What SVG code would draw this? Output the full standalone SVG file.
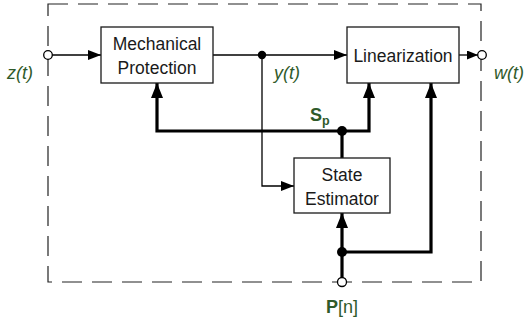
<svg xmlns="http://www.w3.org/2000/svg" width="524" height="322" viewBox="0 0 524 322">
<style>
.box{fill:#fff;stroke:#1a1a1a;stroke-width:1.3}
.lbl{font-family:"Liberation Sans",Arial,sans-serif;font-size:17.5px;fill:#1a1a1a;text-anchor:middle}
.sig{font-family:"Liberation Sans",Arial,sans-serif;font-size:18px;fill:#2f5a2a}
.thin{fill:none;stroke:#000;stroke-width:1.3}
.thick{fill:none;stroke:#000;stroke-width:3.2}
.port{fill:#fff;stroke:#000;stroke-width:1.3}
</style>
<defs>
<marker id="at" markerUnits="userSpaceOnUse" markerWidth="13" markerHeight="10" refX="13" refY="5" orient="auto">
<path d="M0,0 L13,5 L0,10 z" fill="#000"/>
</marker>
<marker id="as" markerUnits="userSpaceOnUse" markerWidth="11" markerHeight="9" refX="11" refY="4.5" orient="auto">
<path d="M0,0 L11,4.5 L0,9 z" fill="#000"/>
</marker>
<marker id="ab" markerUnits="userSpaceOnUse" markerWidth="15" markerHeight="12" refX="15" refY="6" orient="auto">
<path d="M0,0 L15,6 L0,12 z" fill="#000"/>
</marker>
</defs>
<rect x="48" y="4" width="433" height="278" fill="none" stroke="#222" stroke-width="1.2" stroke-dasharray="20,10"/>
<g id="connectors">
<path class="thin" d="M52,55 H101" marker-end="url(#at)"/>
<path class="thin" d="M213,55 H347" marker-end="url(#at)"/>
<path class="thin" d="M262,55 V186 H294" marker-end="url(#at)"/>
<path class="thin" d="M459,55 H478" marker-end="url(#as)"/>
<path class="thick" d="M342,158 V131"/>
<path class="thick" d="M342,131 H157 V83" marker-end="url(#ab)"/>
<path class="thick" d="M342,131 H369 V83" marker-end="url(#ab)"/>
<path class="thick" d="M342,278 V213" marker-end="url(#ab)"/>
<path class="thick" d="M342,252 H431 V83" marker-end="url(#ab)"/>
<circle cx="262" cy="55" r="4.2" fill="#000"/>
<circle cx="342" cy="131" r="5" fill="#000"/>
<circle cx="342" cy="252" r="5" fill="#000"/>
</g>
<g id="in_z">
<circle class="port" cx="48" cy="55" r="4.3"/>
<text class="sig" x="20" y="79" text-anchor="middle" font-style="italic">z(t)</text>
</g>
<g id="out_w">
<circle class="port" cx="482" cy="55" r="4.3"/>
<text class="sig" x="494" y="79" font-style="italic">w(t)</text>
</g>
<g id="in_p">
<circle class="port" cx="342" cy="282" r="4.5"/>
<text class="sig" x="342" y="313" text-anchor="middle" font-size="19"><tspan font-weight="bold">P</tspan>[n]</text>
</g>
<g id="lbl_y">
<text class="sig" x="287" y="79" text-anchor="middle" font-style="italic">y(t)</text>
</g>
<g id="lbl_sp">
<text class="sig" x="310" y="121" font-weight="bold">S<tspan font-size="12.5" dy="4">p</tspan></text>
</g>
<g id="mech">
<rect class="box" x="101" y="27" width="112" height="56"/>
<text class="lbl" x="157" y="50">Mechanical</text>
<text class="lbl" x="157" y="74">Protection</text>
</g>
<g id="lin">
<rect class="box" x="347" y="27" width="112" height="56"/>
<text class="lbl" x="403" y="62">Linearization</text>
</g>
<g id="est">
<rect class="box" x="294" y="158" width="96" height="55"/>
<text class="lbl" x="342" y="181">State</text>
<text class="lbl" x="342" y="205">Estimator</text>
</g>
</svg>
